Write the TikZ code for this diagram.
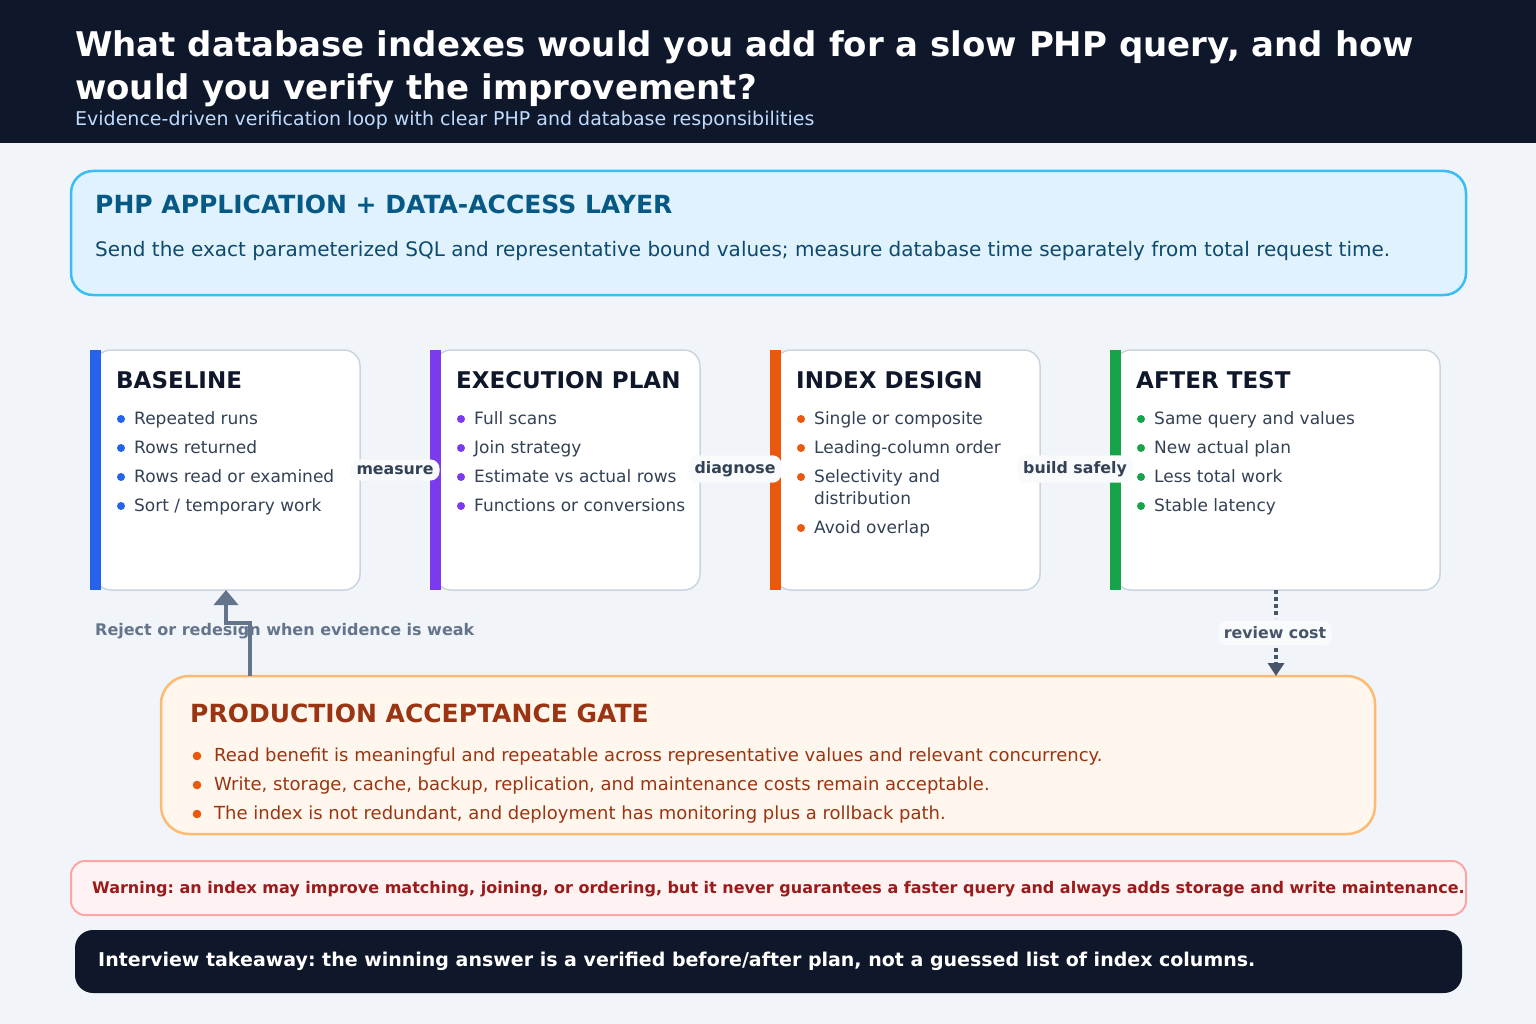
\documentclass[tikz,border=0pt]{standalone}
\usepackage{fontspec}
\setmainfont{DejaVu Sans}
\usetikzlibrary{arrows.meta}
\frenchspacing
\definecolor{pagebg}{HTML}{F1F5F9}
\definecolor{navy}{HTML}{0F172A}
\definecolor{subt}{HTML}{BFDBFE}
\definecolor{phpfill}{HTML}{E0F2FE}
\definecolor{phpdraw}{HTML}{38BDF8}
\definecolor{phptitle}{HTML}{075985}
\definecolor{phptext}{HTML}{0C4A6E}
\definecolor{cardline}{HTML}{CBD5E1}
\definecolor{bodytext}{HTML}{334155}
\definecolor{cblue}{HTML}{2563EB}
\definecolor{cpurple}{HTML}{7C3AED}
\definecolor{corange}{HTML}{EA580C}
\definecolor{cgreen}{HTML}{16A34A}
\definecolor{pillfill}{HTML}{F8FAFC}
\definecolor{greyarrow}{HTML}{64748B}
\definecolor{darkarrow}{HTML}{475569}
\definecolor{gatefill}{HTML}{FFF7ED}
\definecolor{gatedraw}{HTML}{FDBA74}
\definecolor{gatetitle}{HTML}{9A3412}
\definecolor{warnfill}{HTML}{FEF2F2}
\definecolor{warndraw}{HTML}{FCA5A5}
\definecolor{warntext}{HTML}{991B1B}
\newcommand\fsz[1]{\fontsize{#1}{#1}\selectfont\frenchspacing}
\begin{document}
\begin{tikzpicture}[x=1pt,y=-1pt,
  txt/.style={anchor=base west, inner sep=0pt},
  cardbox/.style={draw=cardline, fill=white, line width=1.5pt, rounded corners=16pt},
  cardtitle/.style={txt, text=navy, font=\fsz{23}\bfseries},
  item/.style={txt, text=bodytext, font=\fsz{17}},
  pill/.style={fill=pillfill, rounded corners=9pt, inner xsep=6pt, inner ysep=6pt, text=bodytext, font=\fsz{15.8}\bfseries},
  gitem/.style={txt, text=gatetitle, font=\fsz{18}},
]
\useasboundingbox (0,0) rectangle (1536,1024);
\fill[pagebg] (0,0) rectangle (1536,1024);
\fill[navy] (0,0) rectangle (1536,143);
\node[txt, text=white, font=\fsz{34}\bfseries] (title1) at (75,57) {What database indexes would you add for a slow PHP query, and how};
\node[txt, text=white, font=\fsz{34}\bfseries] (title2) at (75,100) {would you verify the improvement?};
\node[txt, text=subt, font=\fsz{19}] (sub) at (75,126) {Evidence-driven verification loop with clear PHP and database responsibilities};

% PHP layer
\draw[fill=phpfill, draw=phpdraw, line width=2.5pt, rounded corners=22pt] (71,171) rectangle (1466,295);
\node[txt, text=phptitle, font=\fsz{25}\bfseries] (phpt) at (95,214) {PHP APPLICATION + DATA-ACCESS LAYER};
\node[txt, text=phptext, font=\fsz{20}] (phpb) at (95,257) {Send the exact parameterized SQL and representative bound values; measure database time separately from total request time.};

% cards
\draw[cardbox] (95,350) rectangle (360,590);
\fill[cblue] (90,350) rectangle (101,590);
\coordinate (c1b) at (226,590);
\node[cardtitle] (t1) at (116,388) {BASELINE};
\foreach \t [count=\i] in {Repeated runs, Rows returned, Rows read or examined, Sort / temporary work}{
  \fill[cblue] (121,{424+29*(\i-1)-5}) circle (4);
  \node[item] (b1\i) at (134,{424+29*(\i-1)}) {\t};
}

\draw[cardbox] (435,350) rectangle (700,590);
\fill[cpurple] (430,350) rectangle (441,590);
\node[cardtitle] (t2) at (456,388) {EXECUTION PLAN};
\foreach \t [count=\i] in {Full scans, Join strategy, Estimate vs actual rows, Functions or conversions}{
  \fill[cpurple] (461,{424+29*(\i-1)-5}) circle (4);
  \node[item] (b2\i) at (474,{424+29*(\i-1)}) {\t};
}

\draw[cardbox] (775,350) rectangle (1040,590);
\fill[corange] (770,350) rectangle (781,590);
\node[cardtitle] (t3) at (796,388) {INDEX DESIGN};
\fill[corange] (801,419) circle (4);
\node[item] (b31) at (814,424) {Single or composite};
\fill[corange] (801,448) circle (4);
\node[item] (b32) at (814,453) {Leading-column order};
\fill[corange] (801,477) circle (4);
\node[item] (b33) at (814,482) {Selectivity and};
\node[item] (b33b) at (814,504) {distribution};
\fill[corange] (801,528) circle (4);
\node[item] (b34) at (814,533) {Avoid overlap};

\draw[cardbox] (1115,350) rectangle (1440,590);
\fill[cgreen] (1110,350) rectangle (1121,590);
\node[cardtitle] (t4) at (1136,388) {AFTER TEST};
\foreach \t [count=\i] in {Same query and values, New actual plan, Less total work, Stable latency}{
  \fill[cgreen] (1141,{424+29*(\i-1)-5}) circle (4);
  \node[item] (b4\i) at (1154,{424+29*(\i-1)}) {\t};
}
\coordinate (c4b) at (1276,590);

% step labels
\node[pill] (lm) at (395,470) {measure};
\node[pill] (ld) at (735,469) {diagnose};
\node[pill] (lb) at (1075,469) {build safely};

% gate
\draw[fill=gatefill, draw=gatedraw, line width=2.5pt, rounded corners=28pt] (161,676) rectangle (1375,834);
\coordinate (g1) at (250,676);
\coordinate (g2) at (1276,676);
\node[txt, text=gatetitle, font=\fsz{25}\bfseries] (gt) at (190,722) {PRODUCTION ACCEPTANCE GATE};
\foreach \t [count=\i] in {Read benefit is meaningful and repeatable across representative values and relevant concurrency., {Write, storage, cache, backup, replication, and maintenance costs remain acceptable.}, {The index is not redundant, and deployment has monitoring plus a rollback path.}}{
  \fill[corange] (197,{761+29*(\i-1)-5}) circle (4.3);
  \node[gitem] (g\i t) at (214,{761+29*(\i-1)}) {\t};
}

% reject loop
\node[txt, text=greyarrow, font=\fsz{16}\bfseries] (rej) at (95,635) {Reject or redesign when evidence is weak};
\draw[greyarrow, line width=4pt, -{Triangle[width=24pt,length=15pt]}] (g1) -- (250,623) -- (226,623) -- (c1b);

% review cost
\draw[darkarrow, line width=3.5pt, dash pattern=on 4pt off 3pt] (c4b) -- (1276,618);
\draw[darkarrow, line width=3.5pt, dash pattern=on 4pt off 3pt, -{Triangle[width=16pt,length=13pt]}] (1276,648) -- (g2);
\node[pill, text=darkarrow] (rc) at (1275,633) {review cost};

% warning
\draw[fill=warnfill, draw=warndraw, line width=2pt, rounded corners=14pt] (71,861) rectangle (1466,915);
\node[txt, text=warntext, font=\fsz{16}\bfseries] (warn) at (92,893) {Warning: an index may improve matching, joining, or ordering, but it never guarantees a faster query and always adds storage and write maintenance.};

% takeaway
\fill[navy, rounded corners=18pt] (75,930) rectangle (1462,993);
\node[txt, text=white, font=\fsz{19}\bfseries] (take) at (98,966) {Interview takeaway: the winning answer is a verified before/after plan, not a guessed list of index columns.};
\end{tikzpicture}
\end{document}
